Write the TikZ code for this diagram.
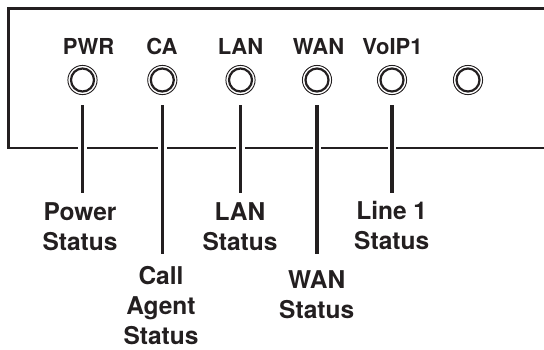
\documentclass[tikz,border=0pt]{standalone}
\usepackage{fontspec}
\setmainfont{TeX Gyre Heros}
\usetikzlibrary{positioning,calc}
\definecolor{panelink}{HTML}{231F20}
\tikzset{
 panel edge/.style={draw=panelink,line width=2.7pt},
 led label/.style={anchor=base,inner sep=0pt,text=panelink,
   font=\bfseries\fontsize{22}{26}\selectfont},
 status label/.style={anchor=base,inner sep=0pt,align=center,text=panelink,
   text depth=0pt,font=\bfseries\fontsize{24.5}{30}\selectfont},
 status line/.style={draw=panelink,line width=3.4pt,
   preaction={draw=white,line width=8.6pt}},
 led core/.style={circle,draw=panelink,line width=2.2pt,minimum size=23pt,
   inner sep=0pt,fill=white},
 pics/led/.style={code={
   \draw[panelink,line width=.9pt] (0,0) circle (14.6);
   \node[led core] (-core) at (0,0) {};
 }}
}
\begin{document}
\begin{tikzpicture}[x=1pt,y=-1pt]
\useasboundingbox (0,0) rectangle (544,349);
% front panel, open to the right
\draw[panel edge] (546,8.3) -- (8.3,8.3) -- (8.3,148) -- (546,148);
\node[led label] (pwrtag) at (88.5,54) {PWR};
\node[led label] (catag) at (162,54) {CA};
\node[led label] (lantag) at (240.5,54) {LAN};
\node[led label] (wantag) at (318.5,54) {WAN};
\node[led label] (voiptag) at (392.5,54) {VoIP1};
\pic (pwr) at (82.5,80) {led};
\pic (ca) at (162.3,80) {led};
\pic (lan) at (240.5,80) {led};
\pic (wan) at (317,80) {led};
\pic (voip) at (392,80) {led};
\pic (spare) at (468,80) {led};
% leader lines
\coordinate (pwrend) at (82.5,193);
\coordinate (caend) at (162.3,254);
\coordinate (lanend) at (240.5,193);
\coordinate (wanend) at (317,254);
\coordinate (voipend) at (392,193);
\draw[status line,shorten <=12.5pt] (pwr-core.south) -- (pwrend);
\draw[status line,shorten <=12.5pt] (ca-core.south) -- (caend);
\draw[status line,shorten <=12.5pt] (lan-core.south) -- (lanend);
\draw[status line,shorten <=12.5pt] (wan-core.south) -- (wanend);
\draw[status line,shorten <=12.5pt] (voip-core.south) -- (voipend);
% status texts (base = last line)
\node[status label] (pwrinfo) at (80,250.5) {Power\\Status};
\node[status label] (cainfo) at (161,344) {Call\\Agent\\Status};
\node[status label] (laninfo) at (240,250.5) {LAN\\Status};
\node[status label] (waninfo) at (316.7,318.5) {WAN\\Status};
\node[status label] (voipinfo) at (391.7,249) {Line 1\\Status};
\end{tikzpicture}
\end{document}
